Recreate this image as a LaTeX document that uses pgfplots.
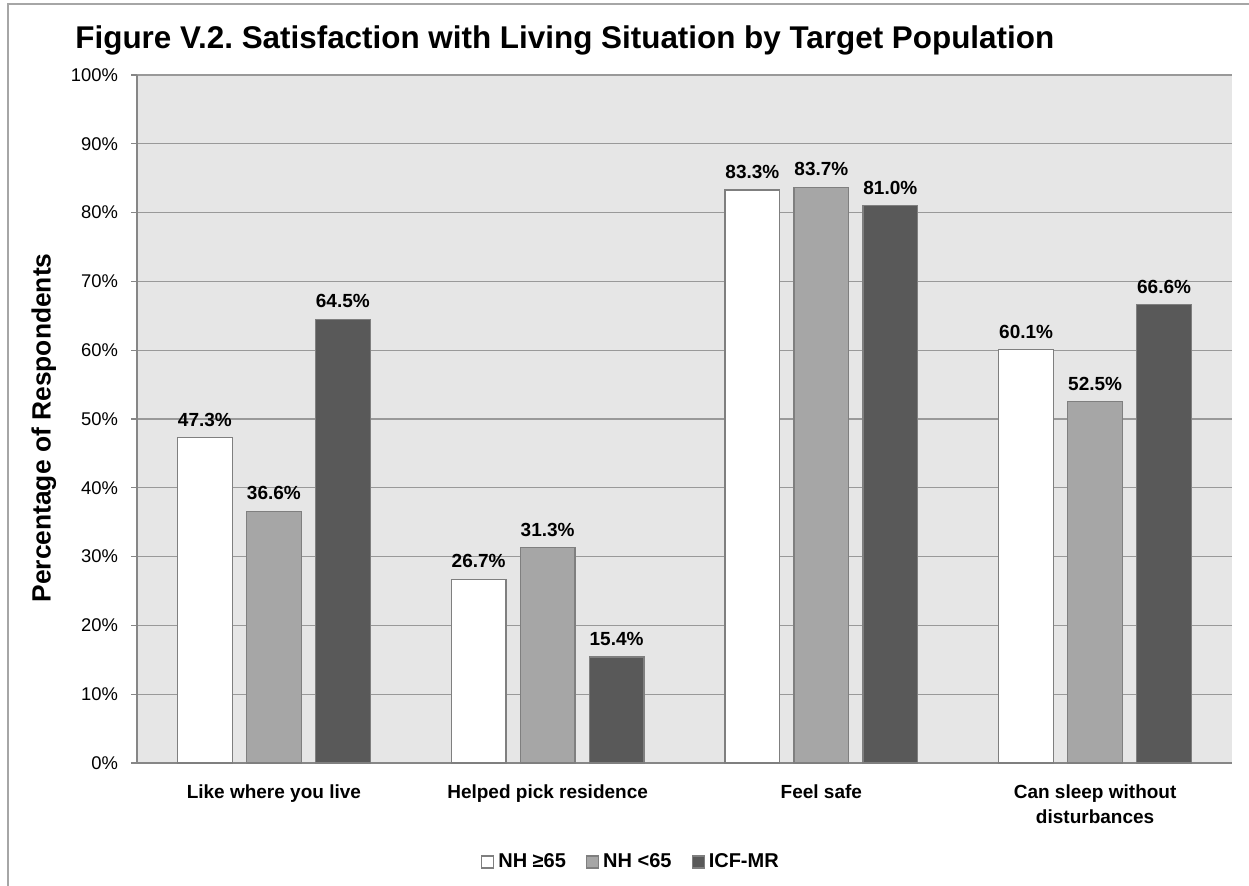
\documentclass[border=0pt]{standalone}
\usepackage{fontspec}
\setmainfont{Liberation Sans}
\usepackage{pgfplots}
\pgfplotsset{compat=1.18}
\definecolor{plotbg}{HTML}{E6E6E6}
\definecolor{gridc}{HTML}{999999}
\definecolor{axc}{HTML}{868686}
\definecolor{barmid}{HTML}{A6A6A6}
\definecolor{bardark}{HTML}{595959}
\definecolor{barline}{HTML}{7F7F7F}
\definecolor{framec}{HTML}{A6A6A6}
\begin{document}
\frenchspacing
\begin{tikzpicture}
\path[use as bounding box] (0,0) rectangle (624.5pt,-442.5pt);
\draw[framec, line width=1pt] (4pt,-450pt) -- (4pt,-2pt) -- (630pt,-2pt);
\node[anchor=base west, font=\bfseries\fontsize{15.7}{18}\selectfont, inner sep=0pt] at (37.5pt,-24pt) {Figure V.2. Satisfaction with Living Situation by Target Population};
\begin{axis}[
  at={(68.5pt,-381.5pt)}, anchor=south west,
  scale only axis, width=547.5pt, height=344pt,
  xmin=-0.5, xmax=3.5, ymin=0, ymax=100,
  axis background/.style={fill=plotbg},
  axis lines*=left,
  axis line style={axc, line width=0.6pt},
  ytick={0,10,...,100},
  yticklabel={\pgfmathprintnumber{\tick}\%},
  /pgf/number format/assume math mode=true,
  yticklabel style={font=\fontsize{9.2}{11}\selectfont, xshift=-3pt},
  ytick style={axc, line width=0.6pt},
  tick align=outside,
  major tick length=3pt,
  ymajorgrids, grid style={gridc, line width=0.6pt},
  xtick={0,1,2,3},
  xtick style={draw=none},
  xticklabels={Like where you live, Helped pick residence, Feel safe, {Can sleep without\\disturbances}},
  xticklabel style={font=\bfseries\fontsize{9.5}{12.5}\selectfont, align=center, yshift=-4.5pt},
  ylabel={Percentage of Respondents},
  ylabel style={font=\bfseries\fontsize{13.2}{15}\selectfont, at={(axis description cs:-0.085,0.487)}, anchor=center},
  ybar, bar width=0.2,
  every axis plot/.append style={draw=barline, line width=0.6pt},
  nodes near coords={\pgfmathprintnumber[fixed,fixed zerofill,precision=1]{\pgfplotspointmeta}\%},
  nodes near coords style={font=\bfseries\fontsize{9.5}{11}\selectfont, black, yshift=2pt},
  legend style={at={(0.452,-0.144)}, anchor=center, legend columns=3, draw=none, fill=none,
    font=\bfseries\fontsize{10}{12}\selectfont, nodes={inner xsep=2pt},
    /tikz/every even column/.append style={column sep=8pt}},
  legend image code/.code={\draw[#1] (0pt,-3pt) rectangle (6pt,3pt);},
]
\addplot[fill=white, bar shift=-0.252] coordinates {(0,47.3) (1,26.7) (2,83.3) (3,60.1)};
\addplot[fill=barmid, bar shift=0] coordinates {(0,36.6) (1,31.3) (2,83.7) (3,52.5)};
\addplot[fill=bardark, bar shift=0.252] coordinates {(0,64.5) (1,15.4) (2,81.0) (3,66.6)};
\legend{NH ≥65, NH <65, ICF-MR}
\end{axis}
\end{tikzpicture}
\end{document}
